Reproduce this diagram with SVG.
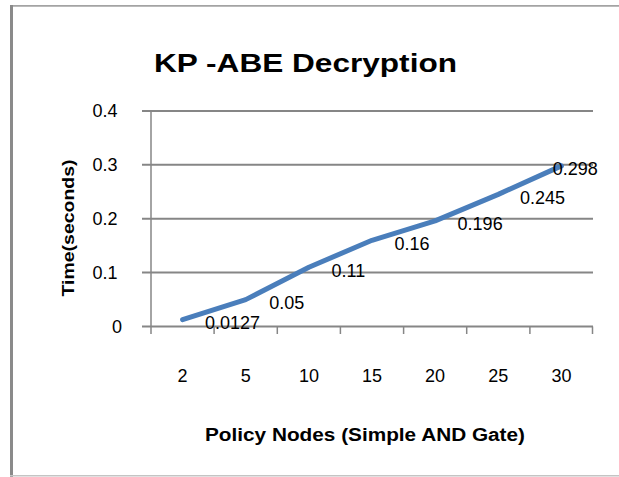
<svg xmlns="http://www.w3.org/2000/svg" width="619" height="477" viewBox="0 0 619 477">
  <style>
    .num { font-family: "Liberation Sans", Arial, sans-serif; font-size: 18px; fill: #000; }
    .bold { font-family: "Liberation Sans", Arial, sans-serif; font-weight: bold; fill: #000; }
    .grid { stroke: #868686; stroke-width: 2; fill: none; }
    .axis { stroke: #868686; stroke-width: 1.5; fill: none; }
    .series { stroke: #4a7ebb; stroke-width: 5; fill: none; stroke-linecap: round; stroke-linejoin: round; }
  </style>
  <rect x="0" y="0" width="619" height="477" fill="#ffffff"/>

  <!-- chart frame -->
  <g id="frame">
    <line x1="10" y1="5.8" x2="619" y2="5.8" stroke="#a3a3a3" stroke-width="1.8"/>
    <line x1="11.5" y1="5" x2="11.5" y2="477" stroke="#8a8a8a" stroke-width="3"/>
    <line x1="10" y1="475.8" x2="619" y2="475.8" stroke="#c4c4c4" stroke-width="1.6"/>
  </g>

  <g id="title">
    <text class="bold" x="305.5" y="72" font-size="26.5" text-anchor="middle" textLength="303" lengthAdjust="spacingAndGlyphs">KP -ABE Decryption</text>
  </g>

  <!-- value gridlines and y-axis -->
  <g id="gridlines">
    <line class="grid" x1="142" y1="110.9" x2="593" y2="110.9"/>
    <line class="grid" x1="142" y1="164.8" x2="593" y2="164.8"/>
    <line class="grid" x1="142" y1="218.7" x2="593" y2="218.7"/>
    <line class="grid" x1="142" y1="272.6" x2="593" y2="272.6"/>
    <line class="grid" x1="142" y1="326.5" x2="593" y2="326.5"/>
  </g>
  <g id="axes">
    <line class="axis" x1="151" y1="110.9" x2="151" y2="334"/>
    <line class="axis" x1="214.1" y1="326.5" x2="214.1" y2="334"/>
    <line class="axis" x1="277.3" y1="326.5" x2="277.3" y2="334"/>
    <line class="axis" x1="340.4" y1="326.5" x2="340.4" y2="334"/>
    <line class="axis" x1="403.6" y1="326.5" x2="403.6" y2="334"/>
    <line class="axis" x1="466.7" y1="326.5" x2="466.7" y2="334"/>
    <line class="axis" x1="529.9" y1="326.5" x2="529.9" y2="334"/>
    <line class="axis" x1="592.5" y1="326.5" x2="592.5" y2="334"/>
  </g>

  <g id="y-labels">
    <text class="num" x="117.5" y="117.4" text-anchor="end">0.4</text>
    <text class="num" x="117.5" y="171.3" text-anchor="end">0.3</text>
    <text class="num" x="117.5" y="225.2" text-anchor="end">0.2</text>
    <text class="num" x="117.5" y="279.1" text-anchor="end">0.1</text>
    <text class="num" x="122" y="333" text-anchor="end">0</text>
  </g>

  <g id="x-labels">
    <text class="num" x="182.6" y="381.5" text-anchor="middle">2</text>
    <text class="num" x="245.7" y="381.5" text-anchor="middle">5</text>
    <text class="num" x="308.9" y="381.5" text-anchor="middle">10</text>
    <text class="num" x="372" y="381.5" text-anchor="middle">15</text>
    <text class="num" x="435.1" y="381.5" text-anchor="middle">20</text>
    <text class="num" x="498.3" y="381.5" text-anchor="middle">25</text>
    <text class="num" x="561.4" y="381.5" text-anchor="middle">30</text>
  </g>

  <g id="axis-titles">
    <text class="bold" x="0" y="0" font-size="17" text-anchor="middle" textLength="137" lengthAdjust="spacingAndGlyphs" transform="translate(73.5,228) rotate(-90)">Time(seconds)</text>
    <text class="bold" x="365" y="440.5" font-size="18" text-anchor="middle" textLength="320" lengthAdjust="spacingAndGlyphs">Policy Nodes (Simple AND Gate)</text>
  </g>

  <g id="connectors">
    <polyline class="series" points="182.6,319.7 245.7,299.6 308.9,267.2 372,240.3 435.1,220.9 498.3,194.4 561.4,165.9"/>
  </g>

  <g id="data-labels">
    <text class="num" x="205" y="329.2">0.0127</text>
    <text class="num" x="269.3" y="309.1">0.05</text>
    <text class="num" x="331.5" y="276.7">0.11</text>
    <text class="num" x="394.6" y="249.8">0.16</text>
    <text class="num" x="457.6" y="230.4">0.196</text>
    <text class="num" x="520" y="203.9">0.245</text>
    <text class="num" x="552.7" y="174.8">0.298</text>
  </g>
</svg>
